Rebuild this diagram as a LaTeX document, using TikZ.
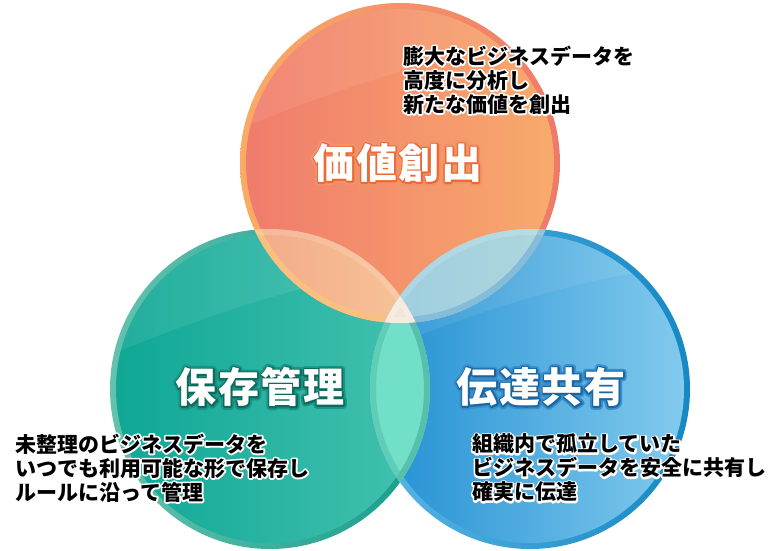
\documentclass[tikz,border=0pt]{standalone}
\usepackage{fontspec}
\newfontfamily\jp{Noto Sans CJK JP}
\definecolor{tRimA}{HTML}{F9AC66}
\definecolor{tRimB}{HTML}{EE7A6A}
\definecolor{tFillA}{HTML}{F07C6C}
\definecolor{tFillB}{HTML}{F8AA6C}
\definecolor{lRimA}{HTML}{64C2AE}
\definecolor{lRimB}{HTML}{159C8C}
\definecolor{lFillA}{HTML}{0FA795}
\definecolor{lFillB}{HTML}{45C2B0}
\definecolor{rRimA}{HTML}{58B6E6}
\definecolor{rRimB}{HTML}{1688C2}
\definecolor{rFillA}{HTML}{2290D2}
\definecolor{rFillB}{HTML}{82CAEE}
\definecolor{tlA}{HTML}{F2A888}
\definecolor{tlB}{HTML}{F7C296}
\definecolor{tlRim}{HTML}{F9C080}
\definecolor{trA}{HTML}{9ECEE0}
\definecolor{trB}{HTML}{B0D8DC}
\definecolor{trRim}{HTML}{84BCDA}
\definecolor{lrFill}{HTML}{72E0C8}
\definecolor{lrRimR}{HTML}{60CDB6}
\definecolor{lrRimL}{HTML}{56C0AC}
\definecolor{midFill}{HTML}{F5E4D8}
\newsavebox\hbx
% stroked copy of the saved box: #1 = stroke colour (r g b), #2 = width
\newcommand\strokecopy[2]{\rlap{\special{pdf:literal direct 1 Tr #2 w 1 J 1 j #1 RG}\usebox\hbx\special{pdf:literal direct 0 Tr}}}
\newcommand\halo[1]{\setbox\hbx\hbox{#1}\strokecopy{1 1 1}{3.4}\usebox\hbx}
\newcommand\glowtext[3]{\setbox\hbx\hbox{#3}\strokecopy{#1}{7}\strokecopy{#2}{3.2}\textcolor{white}{\usebox\hbx}}
\newcommand\venncircle[5]{%
  \shade[left color=#2, right color=#3] (#1) circle (160);
  \shade[left color=#4, right color=#5] (#1) circle (154);
  \begin{scope}[shift={(#1)}]
    \clip (0,0) circle (154);
    \fill[white, opacity=.08] (-170,-30) .. controls (-50,-80) and (60,-115) .. (170,-125) -- (170,-170) -- (-170,-170) -- cycle;
  \end{scope}}
\tikzset{
  body/.style={anchor=west, align=left, inner sep=0pt, font=\jp\bfseries\fontsize{21}{24}\selectfont},
  title/.style={inner sep=0pt, font=\jp\bfseries\fontsize{41}{41}\selectfont},
}
\begin{document}
\begin{tikzpicture}[x=1pt,y=-1pt]
\useasboundingbox (0,0) rectangle (780,550);
\fill[white] (0,0) rectangle (780,550);
\coordinate (T) at (400,163);
\coordinate (L) at (270,389);
\coordinate (R) at (530,389);
\venncircle{L}{lRimA}{lRimB}{lFillA}{lFillB}
\venncircle{R}{rRimA}{rRimB}{rFillA}{rFillB}
\venncircle{T}{tRimA}{tRimB}{tFillA}{tFillB}
% top-left lens
\begin{scope}
  \clip (T) circle (160); \clip (L) circle (160);
  \shade[left color=tlA, right color=tlB] (235,225) rectangle (405,330);
  \draw[line width=6pt, tlRim] (T) circle (157);
  \draw[line width=6pt, white, opacity=.15] (L) circle (157);
\end{scope}
% top-right lens
\begin{scope}
  \clip (T) circle (160); \clip (R) circle (160);
  \shade[left color=trA, right color=trB] (395,225) rectangle (565,330);
  \draw[line width=6pt, trRim] (T) circle (157);
  \draw[line width=6pt, white, opacity=.15] (R) circle (157);
\end{scope}
% left-right lens
\begin{scope}
  \clip (L) circle (160); \clip (R) circle (160);
  \fill[lrFill] (365,225) rectangle (435,550);
  \draw[line width=6pt, lrRimR] (R) circle (157);
  \draw[line width=6pt, lrRimL] (L) circle (157);
\end{scope}
% centre
\begin{scope}
  \clip (T) circle (160); \clip (L) circle (160); \clip (R) circle (160);
  \fill[midFill] (360,220) rectangle (440,340);
  \draw[line width=6pt, white, opacity=.25] (T) circle (157) (L) circle (157) (R) circle (157);
\end{scope}
% titles
\node[title] (t1) at (398,163) {\glowtext{0.95 0.58 0.42}{0.92 0.42 0.22}{価\kern1.5pt値\kern1.5pt創\kern1.5pt出}};
\node[title] (t2) at (260,387) {\glowtext{0.10 0.58 0.52}{0.05 0.42 0.37}{保\kern1.5pt存\kern1.5pt管\kern1.5pt理}};
\node[title] (t3) at (541,387) {\glowtext{0.22 0.56 0.80}{0.10 0.40 0.64}{伝\kern1.5pt達\kern1.5pt共\kern1.5pt有}};
% descriptions
\node[body] (d1) at (403,80) {\halo{膨大なビジネスデータを}\\\halo{高度に分析し}\\\halo{新たな価値を創出}};
\node[body] (d2) at (15,468) {\halo{未整理のビジネスデータを}\\\halo{いつでも利用可能な形で保存し}\\\halo{ルールに沿って管理}};
\node[body] (d3) at (472,468) {\halo{組織内で孤立していた}\\\halo{ビジネスデータを安全に共有し}\\\halo{確実に伝達}};
\end{tikzpicture}
\end{document}
